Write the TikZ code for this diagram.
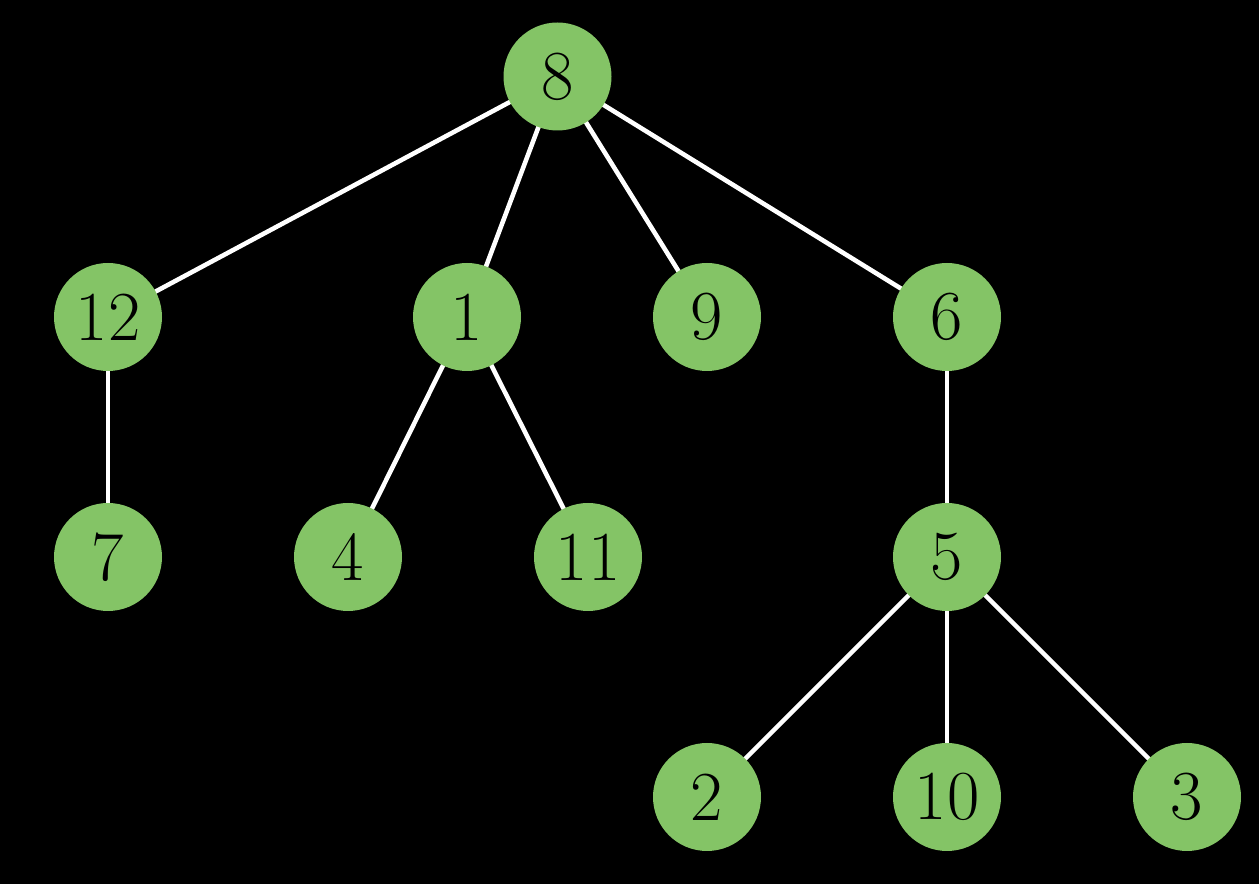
\documentclass[tikz,border=0pt]{standalone}
\usetikzlibrary{backgrounds}
\definecolor{nodegreen}{HTML}{84C466}
\begin{document}
\begin{tikzpicture}[x=0.02cm,y=-0.02cm,
  treenode/.style={circle,fill=nodegreen,draw=none,minimum size=108*0.02cm,inner sep=0pt,text=black,font=\fontsize{40}{48}\selectfont},
  edge/.style={draw=white,line width=2.6pt}]
\useasboundingbox (0,0) rectangle (1259,884);
\node[treenode] (n8) at (557.5,76.5) {8};
\node[treenode] (n12) at (108,317) {12};
\node[treenode] (n1) at (467,317) {1};
\node[treenode] (n9) at (707,317) {9};
\node[treenode] (n6) at (947,317) {6};
\node[treenode] (n7) at (108,557) {7};
\node[treenode] (n4) at (348,557) {4};
\node[treenode] (n11) at (588,557) {11};
\node[treenode] (n5) at (947,557) {5};
\node[treenode] (n2) at (707,797) {2};
\node[treenode] (n10) at (947,797) {10};
\node[treenode] (n3) at (1187,797) {3};
\begin{scope}[on background layer]
\fill[black] (0,0) rectangle (1259,884);
\draw[edge] (n8.center) -- (n12.center);
\draw[edge] (n8.center) -- (n1.center);
\draw[edge] (n8.center) -- (n9.center);
\draw[edge] (n8.center) -- (n6.center);
\draw[edge] (n12.center) -- (n7.center);
\draw[edge] (n1.center) -- (n4.center);
\draw[edge] (n1.center) -- (n11.center);
\draw[edge] (n6.center) -- (n5.center);
\draw[edge] (n5.center) -- (n2.center);
\draw[edge] (n5.center) -- (n10.center);
\draw[edge] (n5.center) -- (n3.center);
\end{scope}
\end{tikzpicture}
\end{document}
